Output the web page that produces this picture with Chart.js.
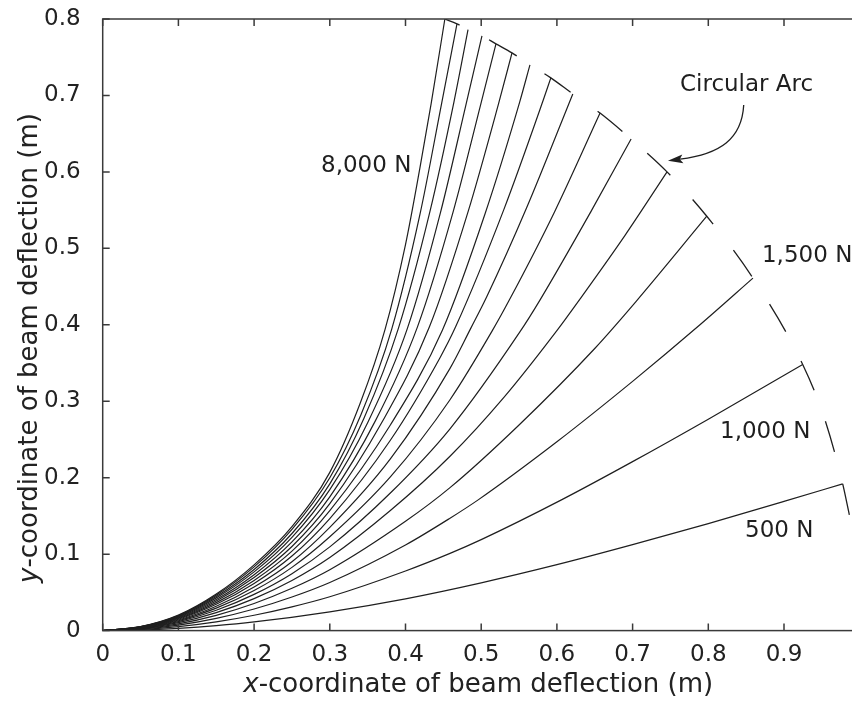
<!DOCTYPE html>
<html><head><meta charset="utf-8">
<script src="https://cdn.jsdelivr.net/npm/chart.js@4.4.1/dist/chart.umd.min.js"></script>
<style>
html,body{margin:0;padding:0;background:#fff;overflow:hidden}
#wrap{width:852px;height:702px;overflow:hidden;position:relative}
canvas{display:block}
</style>
</head><body>
<div id="wrap"><canvas id="c" width="862" height="702"></canvas></div>
<script>
// ---- tick labels ----
const xTickValues = [0, 0.1, 0.2, 0.3, 0.4, 0.5, 0.6, 0.7, 0.8, 0.9];
const xTickLabels = ['0', '0.1', '0.2', '0.3', '0.4', '0.5', '0.6', '0.7', '0.8', '0.9'];
const yTickValues = [0, 0.1, 0.2, 0.3, 0.4, 0.5, 0.6, 0.7, 0.8];
const yTickLabels = ['0', '0.1', '0.2', '0.3', '0.4', '0.5', '0.6', '0.7', '0.8'];

// ---- beam deflection curves (x, y in m), one pair per load ----
const x500  = [0, 0.05, 0.1, 0.15, 0.2, 0.3, 0.4, 0.5, 0.6, 0.7, 0.8, 0.9, 0.9775];
const y500  = [0, 0.0007, 0.0029, 0.0064, 0.0113, 0.0246, 0.0416, 0.0625, 0.0862, 0.1124, 0.140, 0.169, 0.192];
const x1000 = [0, 0.05, 0.1, 0.15, 0.2, 0.25, 0.3, 0.4, 0.4588, 0.5, 0.606, 0.7, 0.8, 0.9247];
const y1000 = [0, 0.0013, 0.0052, 0.0114, 0.0201, 0.0311, 0.0443, 0.078, 0.101, 0.119, 0.171, 0.221, 0.2765, 0.348];
const x1500 = [0, 0.05, 0.1, 0.15, 0.2, 0.25, 0.3, 0.4, 0.4588, 0.496, 0.6, 0.7, 0.789, 0.859];
const y1500 = [0, 0.0019, 0.0072, 0.016, 0.0283, 0.044, 0.063, 0.112, 0.147, 0.171, 0.247, 0.326, 0.400, 0.461];
const x2000 = [0, 0.05, 0.1, 0.15, 0.2, 0.25, 0.3, 0.4, 0.4588, 0.55, 0.65, 0.705, 0.798];
const y2000 = [0, 0.0023, 0.0089, 0.020, 0.0355, 0.0553, 0.0796, 0.143, 0.187, 0.269, 0.369, 0.431, 0.542];
const x2500 = [0, 0.05, 0.1, 0.15, 0.2, 0.25, 0.3, 0.38, 0.4588, 0.53, 0.5997, 0.63, 0.69, 0.7455];
const y2500 = [0, 0.0027, 0.0104, 0.0235, 0.0418, 0.0656, 0.0956, 0.157, 0.228, 0.305, 0.392, 0.433, 0.517, 0.600];
const x3000 = [0, 0.05, 0.1, 0.15, 0.2, 0.25, 0.3, 0.38, 0.4588, 0.5513, 0.578, 0.646, 0.698];
const y3000 = [0, 0.003, 0.0117, 0.0266, 0.0474, 0.0745, 0.1095, 0.180, 0.264, 0.391, 0.433, 0.55, 0.643];
const x3500 = [0, 0.05, 0.1, 0.15, 0.2, 0.25, 0.3, 0.38, 0.4588, 0.5145, 0.538, 0.597, 0.657];
const y3500 = [0, 0.0034, 0.0129, 0.0294, 0.0524, 0.0827, 0.1227, 0.201, 0.302, 0.392, 0.434, 0.548, 0.677];
const x4000 = [0, 0.05, 0.1, 0.15, 0.2, 0.25, 0.3, 0.38, 0.4588, 0.486, 0.507, 0.56, 0.621];
const y4000 = [0, 0.0036, 0.0139, 0.0319, 0.057, 0.090, 0.135, 0.2246, 0.343, 0.395, 0.436, 0.553, 0.702];
const x4500 = [0, 0.05, 0.1, 0.15, 0.2, 0.25, 0.3, 0.38, 0.4456, 0.4665, 0.53, 0.582, 0.592];
const y4500 = [0, 0.0039, 0.0149, 0.0344, 0.0616, 0.0975, 0.1465, 0.249, 0.357, 0.398, 0.551, 0.694, 0.723];
const x5000 = [0, 0.05, 0.1, 0.15, 0.2, 0.25, 0.3, 0.38, 0.4487, 0.505, 0.551, 0.5644];
const y5000 = [0, 0.0041, 0.0158, 0.0366, 0.0656, 0.104, 0.157, 0.269, 0.393, 0.545, 0.692, 0.740];
const x5500 = [0, 0.05, 0.1, 0.15, 0.2, 0.25, 0.3, 0.37, 0.4315, 0.483, 0.5226, 0.5407];
const y5500 = [0, 0.0043, 0.0167, 0.0388, 0.0695, 0.110, 0.166, 0.2745, 0.397, 0.549, 0.688, 0.7557];
const x6000 = [0, 0.05, 0.1, 0.15, 0.2, 0.25, 0.3, 0.36, 0.4157, 0.463, 0.4993, 0.5195];
const y6000 = [0, 0.0045, 0.0175, 0.0408, 0.0731, 0.116, 0.175, 0.274, 0.397, 0.548, 0.688, 0.7675];
const x6500 = [0, 0.05, 0.1, 0.15, 0.2, 0.25, 0.3, 0.35, 0.4024, 0.446, 0.4799, 0.501];
const y6500 = [0, 0.0048, 0.0183, 0.0428, 0.0768, 0.122, 0.1845, 0.272, 0.395, 0.546, 0.688, 0.778];
const x7000 = [0, 0.05, 0.1, 0.15, 0.2, 0.25, 0.3, 0.345, 0.3905, 0.432, 0.4641, 0.4826];
const y7000 = [0, 0.0049, 0.019, 0.0446, 0.080, 0.127, 0.192, 0.2775, 0.395, 0.547, 0.692, 0.786];
const x7500 = [0, 0.05, 0.1, 0.15, 0.2, 0.25, 0.3, 0.341, 0.3817, 0.419, 0.4478, 0.468];
const y7500 = [0, 0.0051, 0.0197, 0.0464, 0.0834, 0.1325, 0.200, 0.282, 0.394, 0.544, 0.690, 0.7937];
const x8000 = [0, 0.05, 0.1, 0.15, 0.2, 0.25, 0.3, 0.34, 0.373, 0.40, 0.419, 0.434, 0.452];
const y8000 = [0, 0.0053, 0.0203, 0.0478, 0.086, 0.136, 0.207, 0.297, 0.394, 0.505, 0.605, 0.690, 0.80];

// ---- dashed circular arc through the beam tips ----
const arcX = [0.452, 0.468, 0.4826, 0.501, 0.5195, 0.5407, 0.5644, 0.592, 0.621, 0.657, 0.698, 0.7455, 0.798, 0.859, 0.9247, 0.954, 0.9775, 0.9863];
const arcY = [0.80, 0.7937, 0.786, 0.778, 0.7675, 0.7557, 0.740, 0.723, 0.702, 0.677, 0.643, 0.600, 0.542, 0.461, 0.348, 0.276, 0.192, 0.1515];

// ---- annotations (data coordinates) ----
const noteText = ['8,000 N', 'Circular Arc', '1,500 N', '1,000 N', '500 N'];
const noteX = [0.2884, 0.7626, 0.8709, 0.8155, 0.8485];
const noteY = [0.608, 0.714, 0.4900, 0.2600, 0.1305];
// arrow: start, control1, control2, base, tip
const arrowX = [0.8468, 0.8442, 0.8155, 0.7627, 0.7467];
const arrowY = [0.6874, 0.6428, 0.6232, 0.6166, 0.6146];

const series = [
  ['500 N', x500, y500], ['1,000 N', x1000, y1000], ['1,500 N', x1500, y1500], ['2,000 N', x2000, y2000],
  ['2,500 N', x2500, y2500], ['3,000 N', x3000, y3000], ['3,500 N', x3500, y3500], ['4,000 N', x4000, y4000],
  ['4,500 N', x4500, y4500], ['5,000 N', x5000, y5000], ['5,500 N', x5500, y5500], ['6,000 N', x6000, y6000],
  ['6,500 N', x6500, y6500], ['7,000 N', x7000, y7000], ['7,500 N', x7500, y7500], ['8,000 N', x8000, y8000]
];

const INK = '#1f1f1f';
const datasets = series.map(([name, xs, ys]) => ({
  label: name,
  data: xs.map((x, i) => ({x: x, y: ys[i]})),
  showLine: true, fill: false,
  borderColor: INK, borderWidth: 1.2,
  pointRadius: 0, pointHoverRadius: 0,
  cubicInterpolationMode: 'monotone'
}));
datasets.push({
  label: 'Circular Arc',
  data: arcX.map((x, i) => ({x: x, y: arcY[i]})),
  showLine: true, fill: false,
  borderColor: INK, borderWidth: 1.3,
  borderDash: [32, 33], borderDashOffset: 16,
  pointRadius: 0, pointHoverRadius: 0,
  cubicInterpolationMode: 'monotone'
});

const FONT = "'DejaVu Sans', sans-serif";
Chart.defaults.font.family = FONT;

const framePlugin = {
  id: 'frame',
  afterDatasetsDraw(chart) {
    const {ctx, chartArea: a, scales: {x, y}} = chart;
    ctx.save();
    ctx.strokeStyle = '#3a3a3a';
    ctx.lineWidth = 1.5;
    ctx.strokeRect(a.left, a.top, a.right - a.left, a.bottom - a.top);
    ctx.beginPath();
    const tl = 7;
    xTickValues.forEach(v => {
      const p = x.getPixelForValue(v);
      ctx.moveTo(p, a.bottom); ctx.lineTo(p, a.bottom - tl);
      ctx.moveTo(p, a.top); ctx.lineTo(p, a.top + tl);
    });
    yTickValues.forEach(v => {
      const p = y.getPixelForValue(v);
      ctx.moveTo(a.left, p); ctx.lineTo(a.left + tl, p);
      ctx.moveTo(a.right, p); ctx.lineTo(a.right - tl, p);
    });
    ctx.stroke();
    ctx.restore();
  },
  afterDraw(chart) {
    const {ctx, chartArea: a, scales: {x, y}} = chart;
    ctx.save();
    // annotations
    ctx.fillStyle = INK;
    ctx.font = '23px ' + FONT;
    ctx.textAlign = 'left';
    ctx.textBaseline = 'middle';
    noteText.forEach((t, i) => {
      ctx.fillText(t, x.getPixelForValue(noteX[i]), y.getPixelForValue(noteY[i]));
    });
    // arrow
    const P = arrowX.map((v, i) => [x.getPixelForValue(v), y.getPixelForValue(arrowY[i])]);
    ctx.strokeStyle = INK; ctx.lineWidth = 1.3;
    ctx.beginPath();
    ctx.moveTo(P[0][0], P[0][1]);
    ctx.bezierCurveTo(P[1][0], P[1][1], P[2][0], P[2][1], P[3][0], P[3][1]);
    ctx.stroke();
    const tip = P[4], base = P[3];
    const dx = tip[0] - base[0], dy = tip[1] - base[1];
    const L = Math.hypot(dx, dy), ux = dx / L, uy = dy / L;
    const hl = 15, hw = 4.5;
    const bx = tip[0] - ux * hl, by = tip[1] - uy * hl;
    ctx.beginPath();
    ctx.moveTo(tip[0], tip[1]);
    ctx.lineTo(bx - uy * hw, by + ux * hw);
    ctx.lineTo(bx + ux * 3, by + uy * 3);
    ctx.lineTo(bx + uy * hw, by - ux * hw);
    ctx.closePath();
    ctx.fillStyle = INK;
    ctx.fill();
    // axis titles with italic variable
    ctx.fillStyle = '#222';
    ctx.textBaseline = 'alphabetic';
    ctx.textAlign = 'left';
    const rest = '-coordinate of beam deflection (m)';
    ctx.font = 'italic 26px ' + FONT;
    const wx = ctx.measureText('x').width;
    ctx.font = '26px ' + FONT;
    const wr = ctx.measureText(rest).width;
    const cx = (a.left + a.right) / 2;
    let sx = cx - (wx + wr) / 2 - 3;
    ctx.font = 'italic 26px ' + FONT;
    ctx.fillText('x', sx, 691.5);
    ctx.font = '26px ' + FONT;
    ctx.fillText(rest, sx + wx, 691.5);
    // y title rotated
    ctx.translate(37, 348);
    ctx.rotate(-Math.PI / 2);
    ctx.font = 'italic 26px ' + FONT;
    const wy = ctx.measureText('y').width;
    ctx.font = '26px ' + FONT;
    const sy = -(wy + wr) / 2;
    ctx.font = 'italic 26px ' + FONT;
    ctx.fillText('y', sy, 0);
    ctx.font = '26px ' + FONT;
    ctx.fillText(rest, sy + wy, 0);
    ctx.restore();
  }
};

new Chart(document.getElementById('c'), {
  type: 'scatter',
  data: {datasets: datasets},
  options: {
    responsive: false,
    animation: false,
    devicePixelRatio: 1,
    events: [],
    layout: {padding: {top: 19, right: 2.3, left: 0, bottom: 0}},
    plugins: {legend: {display: false}, tooltip: {enabled: false}, title: {display: false}},
    scales: {
      x: {
        type: 'linear', min: 0, max: 1,
        grid: {display: false}, border: {display: false},
        afterBuildTicks: s => { s.ticks = xTickValues.map(v => ({value: v})); },
        afterFit: s => { s.height = 71.4; s.paddingLeft = 0; s.paddingRight = 0; },
        ticks: {autoSkip: false, maxRotation: 0, padding: 3, color: '#222', font: {size: 23},
                callback: (v, i) => xTickLabels[i]}
      },
      y: {
        type: 'linear', min: 0, max: 0.8,
        grid: {display: false}, border: {display: false},
        afterBuildTicks: s => { s.ticks = yTickValues.map(v => ({value: v})); },
        afterFit: s => { s.width = 102.7; s.paddingTop = 0; s.paddingBottom = 0; },
        ticks: {autoSkip: false, padding: 14, color: '#222', font: {size: 23},
                callback: (v, i) => yTickLabels[i]}
      }
    }
  },
  plugins: [framePlugin]
});
</script>
</body></html>
